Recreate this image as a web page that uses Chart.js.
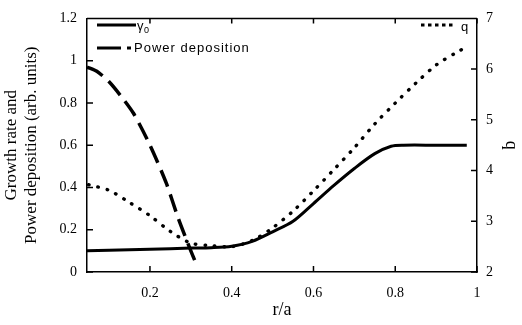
<!DOCTYPE html>
<html>
<head>
<meta charset="utf-8">
<script src="https://cdn.jsdelivr.net/npm/chart.js@4/dist/chart.umd.min.js"></script>
<style>
    html, body { margin: 0; padding: 0; background: #fff; }
    #wrap { width: 522px; height: 325px; }
</style>
</head>
<body>
<div id="wrap"><canvas id="profileChart"></canvas></div>
<script>
// values
const rGamma = [0.046, 0.1, 0.2, 0.3, 0.35, 0.4, 0.45, 0.5, 0.55, 0.6, 0.65, 0.7, 0.75, 0.79, 0.82, 0.9, 0.975];
const gammaVals = [0.1, 0.103, 0.108, 0.113, 0.115, 0.122, 0.145, 0.19, 0.24, 0.324, 0.41, 0.49, 0.56, 0.595, 0.6, 0.6, 0.6];

const rPower = [0.046, 0.07, 0.1, 0.13, 0.16, 0.2, 0.24, 0.27, 0.3, 0.315];
const powerVals = [0.97, 0.95, 0.9, 0.83, 0.75, 0.6, 0.42, 0.25, 0.1, 0.03];

const rQ = [0.05, 0.1, 0.15, 0.2, 0.25, 0.3, 0.35, 0.4, 0.45, 0.5, 0.55, 0.6, 0.65, 0.7, 0.75, 0.8, 0.85, 0.9, 0.95, 0.98];
const qVals = [3.72, 3.61, 3.37, 3.11, 2.8, 2.57, 2.52, 2.5, 2.62, 2.87, 3.2, 3.6, 4.02, 4.45, 4.92, 5.33, 5.72, 6.08, 6.33, 6.46];

const xTicks = [0.2, 0.4, 0.6, 0.8, 1];
const leftTicks = [0, 0.2, 0.4, 0.6, 0.8, 1, 1.2];
const rightTicks = [2, 3, 4, 5, 6, 7];

const serif = "'Liberation Serif', 'Times New Roman', serif";
const sans = "'Liberation Sans', Arial, sans-serif";

function pts(xs, ys) {
    return xs.map(function(x, i) { return { x: x, y: ys[i] }; });
}

function fmt(v) {
    return String(+v.toFixed(1));
}

// inward tick marks, top frame line and the in-plot legends
const framePlugin = {
    id: 'frame',
    afterDraw: function(chart) {
        const ctx = chart.ctx;
        const a = chart.chartArea;
        const x = chart.scales.x, yl = chart.scales.y, yr = chart.scales.y2;
        ctx.save();
        ctx.strokeStyle = '#000';
        ctx.lineWidth = 1.5;
        ctx.beginPath();
        ctx.moveTo(a.left, a.top);
        ctx.lineTo(a.right, a.top);
        xTicks.forEach(function(v) {
            const px = x.getPixelForValue(v);
            ctx.moveTo(px, a.bottom);
            ctx.lineTo(px, a.bottom - 6);
            ctx.moveTo(px, a.top);
            ctx.lineTo(px, a.top + 5);
        });
        leftTicks.forEach(function(v) {
            const py = yl.getPixelForValue(v);
            ctx.moveTo(a.left, py);
            ctx.lineTo(a.left + 6, py);
        });
        rightTicks.forEach(function(v) {
            const py = yr.getPixelForValue(v);
            ctx.moveTo(a.right, py);
            ctx.lineTo(a.right - 6, py);
        });
        ctx.stroke();

        // legend, top left
        ctx.lineWidth = 3;
        ctx.beginPath();
        ctx.moveTo(97, 25);
        ctx.lineTo(136, 25);
        ctx.stroke();
        ctx.setLineDash([24, 6, 4, 100]);
        ctx.beginPath();
        ctx.moveTo(97, 48);
        ctx.lineTo(132, 48);
        ctx.stroke();
        ctx.setLineDash([]);
        ctx.fillStyle = '#000';
        ctx.textBaseline = 'middle';
        ctx.font = '13px ' + sans;
        ctx.fillText('\u03b3', 137, 26);
        ctx.font = '9px ' + sans;
        ctx.fillText('0', 144, 31);
        ctx.font = '13px ' + sans;
        ctx.letterSpacing = '1px';
        ctx.fillText('Power deposition', 134, 48);
        ctx.letterSpacing = '0px';

        // legend, top right
        ctx.lineWidth = 3;
        ctx.setLineDash([3.5, 3.5]);
        ctx.beginPath();
        ctx.moveTo(421, 25);
        ctx.lineTo(456, 25);
        ctx.stroke();
        ctx.setLineDash([]);
        ctx.font = '13px ' + sans;
        ctx.fillText('q', 461, 27);
        ctx.restore();
    }
};

window.addEventListener('load', function() {
    const ctx = document.getElementById('profileChart').getContext('2d');
    const profileChart = new Chart(ctx, {
        type: 'line',
        data: {
            datasets: [{
                label: 'Power deposition',
                data: pts(rPower, powerVals),
                yAxisID: 'y',
                borderColor: '#000',
                borderWidth: 3.5,
                borderDash: [18, 8],
                pointRadius: 0,
                tension: 0.25
            }, {
                label: 'q',
                data: pts(rQ, qVals),
                yAxisID: 'y2',
                borderColor: '#000',
                borderWidth: 3.4,
                borderDash: [0.5, 9],
                borderCapStyle: 'round',
                pointRadius: 0,
                tension: 0.3
            }, {
                label: '\u03b30',
                data: pts(rGamma, gammaVals),
                yAxisID: 'y',
                borderColor: '#000',
                borderWidth: 3,
                pointRadius: 0,
                tension: 0.3
            }]
        },
        options: {
            responsive: true,
            maintainAspectRatio: false,
            animation: false,
            layout: { padding: { top: 12, left: 0, right: 0, bottom: 0 } },
            plugins: {
                legend: { display: false },
                tooltip: { enabled: false }
            },
            scales: {
                x: {
                    type: 'linear',
                    min: 0.046,
                    max: 1,
                    afterBuildTicks: function(s) { s.ticks = xTicks.map(function(v) { return { value: v }; }); },
                    afterFit: function(s) { s.height = 53; },
                    grid: { drawOnChartArea: false, drawTicks: false },
                    border: { color: '#000', width: 1.5 },
                    ticks: {
                        color: '#000',
                        padding: 13,
                        font: { family: serif, size: 14 },
                        callback: fmt
                    },
                    title: {
                        display: true,
                        text: 'r/a',
                        color: '#000',
                        padding: { top: 0 },
                        font: { family: serif, size: 18 }
                    }
                },
                y: {
                    position: 'left',
                    min: 0,
                    max: 1.2,
                    afterBuildTicks: function(s) { s.ticks = leftTicks.map(function(v) { return { value: v }; }); },
                    afterFit: function(s) { s.width = 87; },
                    grid: { drawOnChartArea: false, drawTicks: false },
                    border: { color: '#000', width: 1.5 },
                    ticks: {
                        color: '#000',
                        padding: 10,
                        font: { family: serif, size: 14 },
                        callback: fmt
                    },
                    title: {
                        display: true,
                        text: ['Growth rate and', 'Power deposition (arb. units)'],
                        color: '#000',
                        padding: { top: 2, bottom: 0 },
                        font: { family: serif, size: 17, lineHeight: 1.15 }
                    }
                },
                y2: {
                    position: 'right',
                    min: 2,
                    max: 7,
                    afterBuildTicks: function(s) { s.ticks = rightTicks.map(function(v) { return { value: v }; }); },
                    afterFit: function(s) { s.width = 45; },
                    grid: { drawOnChartArea: false, drawTicks: false },
                    border: { color: '#000', width: 1.5 },
                    ticks: {
                        color: '#000',
                        padding: 9,
                        font: { family: serif, size: 14 },
                        callback: fmt
                    },
                    title: {
                        display: true,
                        text: 'q',
                        color: '#000',
                        padding: { top: 0, bottom: 4 },
                        font: { family: serif, size: 18 }
                    }
                }
            }
        },
        plugins: [framePlugin]
    });
});
</script>
</body>
</html>
